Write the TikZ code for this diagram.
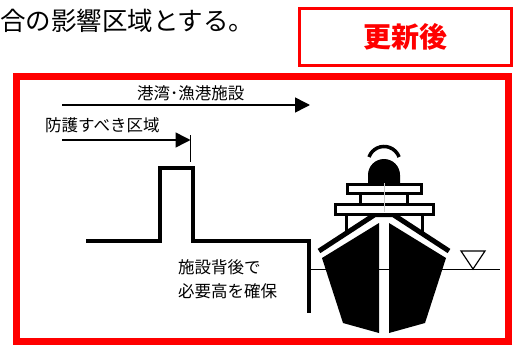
\documentclass[tikz,border=0pt]{standalone}
\usepackage{fontspec}
\setmainfont{Noto Sans CJK JP}
\usetikzlibrary{arrows.meta}
\begin{document}
\begin{tikzpicture}[x=1pt,y=-1pt,
		frame/.style = {draw=red, line width=7pt},
		wall/.style = {line width=4pt, line join=miter},
		deck/.style = {draw=black, line width=3pt, fill=white},
		label/.style = {anchor=west, inner sep=0pt, align=left, font=\fontsize{16.5}{24}\selectfont},
		reach/.style = {line width=1.5pt, -{Triangle[length=15pt,width=15pt]}}
	]
	\useasboundingbox (0,0) rectangle (513,345);
	\def\waterlevel{269}
	% heading and badge
	\node[anchor=west, inner sep=0pt, font=\fontsize{25.5}{25.5}\selectfont] (caption) at (0,21) {合の影響区域とする。};
	\node[draw=red, line width=3pt, minimum width=211.5pt, minimum height=57pt, text=red,
		font=\fontsize{28}{28}\selectfont\bfseries] (badge) at (405.25,37) {更新後};
	\draw[frame] (16.5,76.5) rectangle (508.5,341.5);
	% reach arrows
	\node[label] (facility) at (137,93) {港湾･漁港施設};
	\node[label] (zone) at (45,125) {防護すべき区域};
	\coordinate (facility start) at (62,105);
	\coordinate (facility end) at (310,105);
	\coordinate (zone start) at (62,140);
	\coordinate (zone end) at (190.5,140);
	\coordinate (tick top) at (190.5,135);
	\coordinate (tick bottom) at (190.5,162);
	\draw[reach] (facility start) -- (facility end);
	\draw[reach] (zone start) -- (zone end);
	\draw[line width=1pt] (tick top) -- (tick bottom);
	% ground, seawall and quay
	\draw[wall] (86,241) -- (160,241) -- (160,167.5) -- (192.5,167.5) -- (192.5,241) -- (308.5,241) -- (308.5,313);
	\node[label] (note) at (178,279) {施設背後で\\必要高を確保};
	% water level
	\draw[line width=1pt] (308.5,\waterlevel) -- (500,\waterlevel);
	\draw[line width=1.2pt, line join=miter] (461,251) -- (485,251) -- (473,\waterlevel) -- cycle;
	% ship
	\begin{scope}[shift={(384,0)}]
		\fill (-62,258) -- (-5,223) -- (-5,333) -- (-41,323) -- cycle;
		\fill (62,258) -- (5,223) -- (5,333) -- (41,323) -- cycle;
		\draw[line width=5pt] (-65,251) -- (-9,214.5) -- (9,214.5) -- (65,251);
		\draw[line width=3pt] (-38,216) -- (-38,234) (38,216) -- (38,234);
		\draw[deck] (-49,204.5) rectangle (49,214.5);
		\draw[line width=3pt] (-23.5,195) -- (-23.5,203) (23.5,195) -- (23.5,203);
		\fill (-16,184) -- (-16,175) arc (180:360:16) -- (16,184) -- cycle;
		\draw[deck] (-37,184.5) rectangle (37,193.5);
		\draw[line width=3.5pt] (-15,157) arc (200:340:16);
		\draw[gray!40, line width=0.6pt] (0,183) -- (0,212);
	\end{scope}
\end{tikzpicture}
\end{document}
